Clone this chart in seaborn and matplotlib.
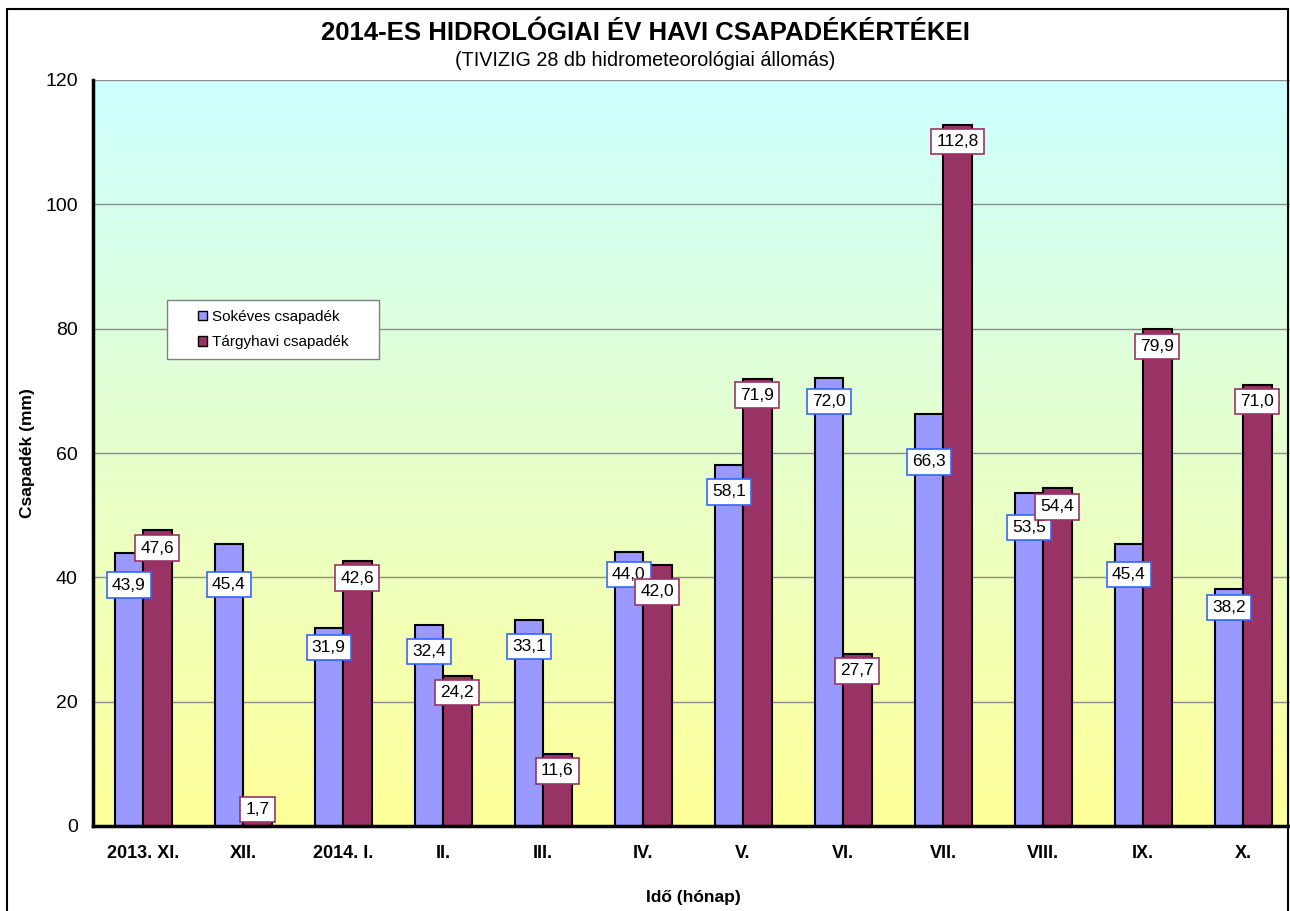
import matplotlib
matplotlib.use("Agg")
import matplotlib.pyplot as plt
import numpy as np
import pandas as pd
import seaborn as sns
from matplotlib.colors import LinearSegmentedColormap
from matplotlib.patches import Rectangle

# Data
months = ["2013. XI.", "XII.", "2014. I.", "II.", "III.", "IV.",
          "V.", "VI.", "VII.", "VIII.", "IX.", "X."]
sokeves = [43.9, 45.4, 31.9, 32.4, 33.1, 44.0, 58.1, 72.0, 66.3, 53.5, 45.4, 38.2]
targyhavi = [47.6, 1.7, 42.6, 24.2, 11.6, 42.0, 71.9, 27.7, 112.8, 54.4, 79.9, 71.0]
series = ["Sokéves csapadék", "Tárgyhavi csapadék"]

# label offsets below bar top (pixels), as excel placed them
off_sok = [32, 41, 20, 27, 26, 22, 27, 23, 48, 34, 31, 19]
off_targy = [18, -6, 17, 17, 17, 27, 16, 17, 17, 19, 17, 17]

df = pd.DataFrame({
    "month": months * 2,
    "value": sokeves + targyhavi,
    "series": [series[0]] * 12 + [series[1]] * 12,
})

sns.set_style("white")
plt.rcParams["font.family"] = ["Liberation Sans", "DejaVu Sans"]
plt.rcParams.update({"text.color": "black", "axes.labelcolor": "black",
                     "xtick.color": "black", "ytick.color": "black"})

fig = plt.figure(figsize=(12.9, 9.11), dpi=100)
ax = fig.add_axes([93 / 1290, 1 - 826 / 911, 1200 / 1290, 746 / 911])

# gradient background
cmap = LinearSegmentedColormap.from_list("bg", ["#FFFF99", "#CCFFFF"])
grad = np.linspace(0, 1, 256).reshape(-1, 1)
ax.imshow(grad, extent=[0, 1, 0, 1], transform=ax.transAxes, aspect="auto",
          cmap=cmap, origin="lower", zorder=0)

sns.barplot(data=df, x="month", y="value", hue="series", order=months,
            hue_order=series, palette=["#9999FF", "#993366"], width=0.57,
            edgecolor="black", linewidth=1.5, saturation=1, ax=ax, zorder=3)

ax.set_xlim(-0.5, 11.5)
ax.set_ylim(0, 120)
ax.set_yticks(range(0, 121, 20))
ax.yaxis.grid(True, color="#8c8c8c", linewidth=1.0, zorder=1)
ax.set_axisbelow(True)

# x ticks at category boundaries, labels at centers
ax.set_xticks(np.arange(-0.5, 12, 1))
ax.set_xticklabels([])
ax.set_xticks(range(12), minor=True)
ax.set_xticklabels(months, minor=True, fontsize=13, fontweight="bold")
ax.tick_params(axis="x", which="minor", length=0, pad=14)
ax.tick_params(axis="x", which="major", length=5, width=2, direction="out", color="black")
ax.tick_params(axis="y", length=5, width=2, direction="out", color="black",
               labelsize=14, pad=6)

for s in ["top", "right"]:
    ax.spines[s].set_visible(False)
for s in ["left", "bottom"]:
    ax.spines[s].set_linewidth(2.5)
    ax.spines[s].set_color("black")
    ax.spines[s].set_zorder(5)

ax.set_xlabel("Idő (hónap)", fontsize=12.5, fontweight="bold", labelpad=20)
ax.set_ylabel("Csapadék (mm)", fontsize=12.5, fontweight="bold", labelpad=7)

# value labels
edge_cols = ["#3366FF", "#993366"]
for cont, offs, ec in zip(ax.containers, [off_sok, off_targy], edge_cols):
    for bar, off in zip(cont, offs):
        x = bar.get_x() + bar.get_width() / 2
        h = bar.get_height()
        ax.annotate(f"{h:.1f}".replace(".", ","), (x, h), xytext=(0, -off),
                    textcoords="offset pixels", ha="center", va="center",
                    fontsize=12.5, zorder=6,
                    bbox=dict(boxstyle="square,pad=0.3", fc="white", ec=ec, lw=1.2))

# legend: separate frame box, entries without frame
ax.add_patch(Rectangle((0.0617, 0.626), 0.1766, 0.079, transform=ax.transAxes,
                       facecolor="white", edgecolor="#808080", linewidth=1.0,
                       zorder=7))
leg = ax.legend(loc="center left", bbox_to_anchor=(0.0875, 0.6655), frameon=False,
                fontsize=11, handlelength=0.6, handleheight=0.6, handletextpad=0.3,
                borderpad=0, labelspacing=0.75, borderaxespad=0)
leg.set_zorder(8)
for h in leg.legend_handles:
    h.set_linewidth(1.0)

fig.text(0.5, 1 - 33 / 911, "2014-ES HIDROLÓGIAI ÉV HAVI CSAPADÉKÉRTÉKEI",
         ha="center", va="center", fontsize=18.5, fontweight="bold")
fig.text(0.5, 1 - 60 / 911, "(TIVIZIG 28 db hidrometeorológiai állomás)",
         ha="center", va="center", fontsize=14.2)

# outer frame
fig.patches.append(Rectangle((7 / 1290, -0.01), 1281 / 1290, 1 - 9 / 911 + 0.01,
                             transform=fig.transFigure, fill=False,
                             edgecolor="black", linewidth=1.5))

fig.savefig("out.png", dpi=100)
